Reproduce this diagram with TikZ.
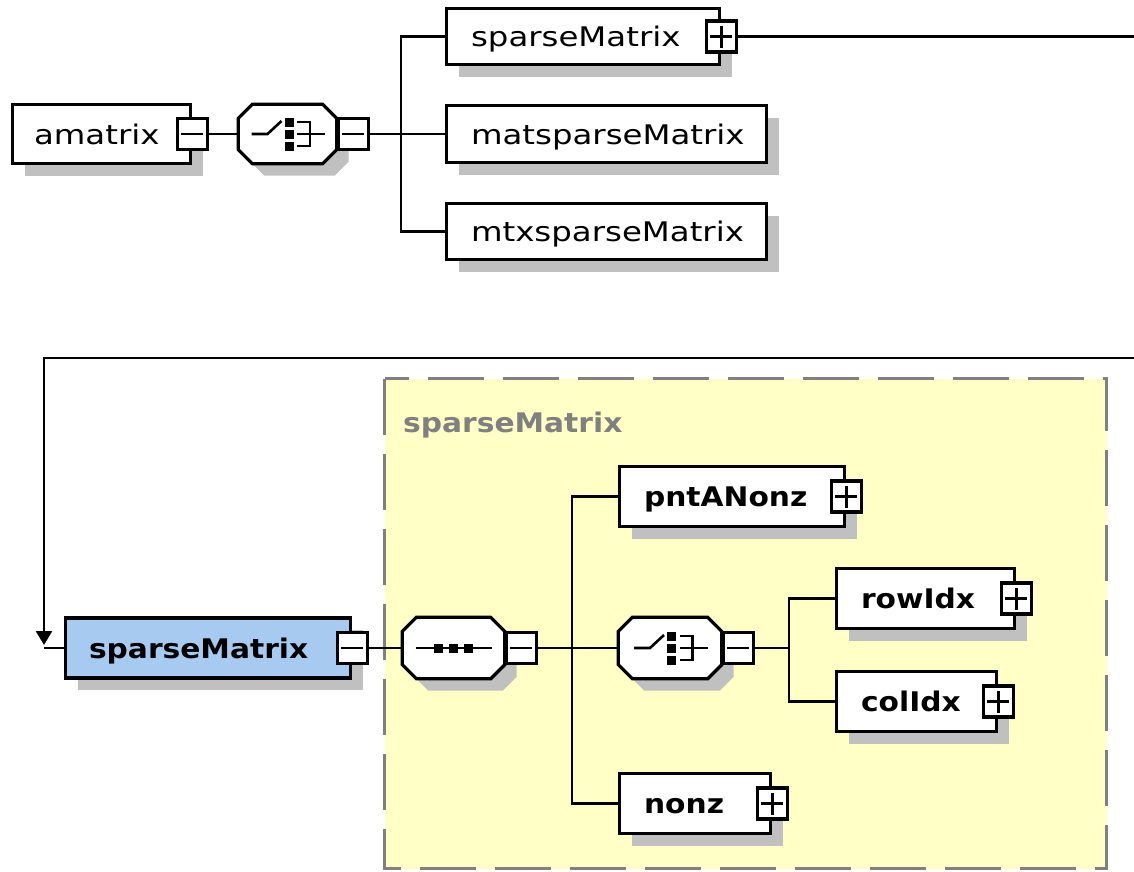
\documentclass[tikz,border=0pt]{standalone}
\usepackage{fontspec}
\setmainfont{DejaVu Sans}
\newfontfamily\elemreg[FakeStretch=1.2]{DejaVu Sans}
\newfontfamily\elembold[FakeStretch=1.1]{DejaVu Sans}
\usetikzlibrary{shadows,calc,arrows.meta}

\definecolor{shadowgray}{HTML}{C0C0C0}
\definecolor{skyblue}{HTML}{A6CAF0}
\definecolor{groupyellow}{HTML}{FFFFC6}
\definecolor{groupgray}{HTML}{808080}

\tikzset{
  elem/.style={draw=black, line width=3.3pt, fill=white, inner sep=0pt,
    drop shadow={shadow xshift=12pt, shadow yshift=-12pt, fill=shadowgray, opacity=1}},
  comp/.style={inner sep=0pt},
  btn/.style={draw=black, line width=3.2pt, fill=white, inner sep=0pt,
    minimum width=30pt, minimum height=31pt},
  minusbtn/.style={btn, path picture={
    \draw[line width=2.7pt] ([xshift=-11pt]path picture bounding box.center)
      -- ([xshift=11pt]path picture bounding box.center);}},
  plusbtn/.style={btn, path picture={
    \draw[line width=2.7pt] ([xshift=-11pt]path picture bounding box.center)
      -- ([xshift=11pt]path picture bounding box.center)
      ([yshift=-11pt]path picture bounding box.center)
      -- ([yshift=11pt]path picture bounding box.center);}},
  wire/.style={line width=2.7pt, draw=black},
  regtxt/.style={anchor=base west, inner sep=0pt,
    font={\elemreg\fontsize{27}{30}\selectfont}},
  boldtxt/.style={anchor=base west, inner sep=0pt,
    font={\elembold\bfseries\fontsize{27}{30}\selectfont}},
  choiceicon/.pic={
    \draw[line width=2.6pt] (-36,0) -- (-20,0) -- (-6,-13);
    \fill (-3,-16.5) rectangle (6,-7.5);
    \fill (-3,-4.5) rectangle (6,4.5);
    \fill (-3,7.5) rectangle (6,16.5);
    \draw[line width=2.6pt] (9.5,-12) -- (22.5,-12) -- (22.5,12) -- (9.5,12);
    \draw[line width=2.6pt] (9.5,0) -- (37.5,0);
  },
  seqicon/.pic={
    \draw[line width=2.6pt] (-38,0) -- (38,0);
    \foreach \c in {-15,0,15} \fill (\c-4.5,-4.5) rectangle (\c+4.5,4.5);
  },
}

% octagonal outline of a compositor around an anchor box
\newcommand\octpath[1]{([xshift=14pt]#1.north west) -- ([xshift=-14pt]#1.north east)
  -- ([yshift=-14pt]#1.north east) -- ([yshift=14pt]#1.south east)
  -- ([xshift=-14pt]#1.south east) -- ([xshift=14pt]#1.south west)
  -- ([yshift=14pt]#1.south west) -- ([yshift=-14pt]#1.north west) -- cycle}
\newcommand\octagonof[1]{%
  \fill[shadowgray, transform canvas={xshift=12pt,yshift=-12pt}] \octpath{#1};
  \draw[line width=3.3pt, fill=white] \octpath{#1};}

\begin{document}
\begin{tikzpicture}[x=1pt, y=-1pt]
\useasboundingbox (0,0) rectangle (1134,871);

% complex type group
\draw[draw=groupgray, line width=3pt, fill=groupyellow, dash pattern=on 56pt off 19pt]
  (384.5,378.5) rectangle (1106.5,868.5);
\node[boldtxt, text=groupgray] (grp-t) at (403,432) {sparseMatrix};

% ---------- amatrix ----------
\node[elem, minimum width=178, minimum height=59] (am) at (101.5,134) {};
\node[minusbtn] (amb) at (am.east) {};
\node[comp, minimum width=98, minimum height=59] (c1) at (287.5,134) {};
\octagonof{c1}
\pic at (c1) {choiceicon};
\node[minusbtn, anchor=west] (c1b) at (c1.east) {};

\node[elem, minimum width=273, minimum height=56] (sm) at (583,36.5) {};
\node[plusbtn] (smb) at (sm.east) {};
\node[elem, minimum width=320, minimum height=57] (mat) at (606.5,134) {};
\node[elem, minimum width=320, minimum height=56] (mtx) at (606.5,231.5) {};

% ---------- sparseMatrix ----------
\node[elem, fill=skyblue, minimum width=285, minimum height=60] (bsm) at (208,648) {};
\node[minusbtn] (bsmb) at (bsm.east) {};
\node[comp, minimum width=102, minimum height=61] (seq) at (453.5,648) {};
\octagonof{seq}
\pic at (seq) {seqicon};
\node[minusbtn, anchor=west] (seqb) at (seq.east) {};

\node[elem, minimum width=225, minimum height=60] (pnt) at (732,496.5) {};
\node[plusbtn] (pntb) at (pnt.east) {};
\node[comp, minimum width=103, minimum height=61] (ch2) at (670,648) {};
\octagonof{ch2}
\pic at (ch2) {choiceicon};
\node[minusbtn, anchor=west] (ch2b) at (ch2.east) {};
\node[elem, minimum width=151, minimum height=60] (nonz) at (695,803.5) {};
\node[plusbtn] (nonzb) at (nonz.east) {};

\node[elem, minimum width=178, minimum height=60] (row) at (925.5,598.5) {};
\node[plusbtn] (rowb) at (row.east) {};
\node[elem, minimum width=160, minimum height=60] (col) at (916.5,701.5) {};
\node[plusbtn] (colb) at (col.east) {};

% ---------- connectors ----------
\coordinate (bus1) at (401,134);
\coordinate (edgeR) at (1134,0);
\draw[wire] (amb.east) -- (c1.west);
\draw[wire] (c1b.east) -- (bus1) -- (mat.west);
\draw[wire] (sm.west) -| (bus1) |- (mtx.west);
\draw[wire] (smb.east) -- (smb.east -| edgeR);

\coordinate (inR) at (1134,358);
\coordinate (turn) at (44,358);
\draw[wire, -{Triangle[width=16pt,length=14pt]}] (inR) -- (turn) -- ([yshift=3pt]turn |- bsm.west);
\draw[wire] (turn |- bsm.west) -- (bsm.west);

\coordinate (bus2) at (572,648);
\coordinate (bus3) at (789,648);
\draw[wire] (bsmb.east) -- (seq.west);
\draw[wire] (seqb.east) -- (bus2) -- (ch2.west);
\draw[wire] (pnt.west) -| (bus2) |- (nonz.west);
\draw[wire] (ch2b.east) -- (bus3);
\draw[wire] (row.west) -| (bus3) |- (col.west);

% ---------- labels ----------
\node[regtxt] (am-t) at ($(am.west)+(23,10)$) {amatrix};
\node[regtxt] (sm-t) at ($(sm.west)+(26,10)$) {sparseMatrix};
\node[regtxt] (mat-t) at ($(mat.west)+(26,10)$) {matsparseMatrix};
\node[regtxt] (mtx-t) at ($(mtx.west)+(26,10)$) {mtxsparseMatrix};
\node[boldtxt] (bsm-t) at ($(bsm.west)+(25,10)$) {sparseMatrix};
\node[boldtxt] (pnt-t) at ($(pnt.west)+(26,10)$) {pntANonz};
\node[boldtxt] (row-t) at ($(row.west)+(26,10)$) {rowIdx};
\node[boldtxt] (col-t) at ($(col.west)+(26,10)$) {colIdx};
\node[boldtxt] (nonz-t) at ($(nonz.west)+(26,10)$) {nonz};
\end{tikzpicture}
\end{document}
